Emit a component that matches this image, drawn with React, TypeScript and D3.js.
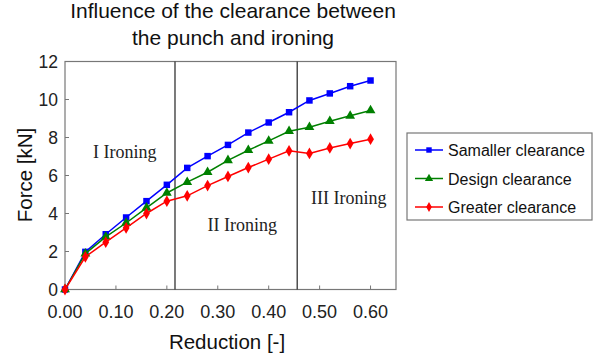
import React, { useEffect, useRef } from "react";
import * as d3 from "d3";

// reduction values (x) shared by all three series
const reduction = [0, 0.04, 0.08, 0.12, 0.16, 0.2, 0.24, 0.28, 0.32, 0.36, 0.4, 0.44, 0.48, 0.52, 0.56, 0.6];
const smallerForce = [0, 1.98, 2.91, 3.79, 4.65, 5.51, 6.4, 7.02, 7.61, 8.26, 8.79, 9.33, 9.95, 10.32, 10.7, 11.0];
const designForce = [0, 1.89, 2.77, 3.5, 4.3, 5.08, 5.65, 6.17, 6.8, 7.33, 7.82, 8.33, 8.54, 8.86, 9.14, 9.42];
const greaterForce = [0, 1.72, 2.49, 3.24, 4.0, 4.65, 4.93, 5.47, 5.95, 6.42, 6.86, 7.3, 7.16, 7.45, 7.68, 7.91];
const seriesNames = ["Samaller clearance", "Design clearance", "Greater clearance"];
const xTicks = [0, 0.1, 0.2, 0.3, 0.4, 0.5, 0.6];
const yTicks = [0, 2, 4, 6, 8, 10, 12];
// boundaries between the ironing stages
const stageBounds = [0.216, 0.456];
const stageLabels = [
  { text: "I Ironing", x: 0.055, y: 6.9 },
  { text: "II Ironing", x: 0.28, y: 3.1 },
  { text: "III Ironing", x: 0.483, y: 4.5 },
];

const App = () => {
  const ref = useRef<SVGSVGElement>(null);

  useEffect(() => {
    const svg = d3.select(ref.current);
    svg.selectAll("*").remove();

    const x = d3.scaleLinear().domain([0, 0.65]).range([65, 396]);
    const y = d3.scaleLinear().domain([0, 12]).range([289.5, 61.5]);
    const font = "Liberation Sans, Arial, sans-serif";

    // titulo
    svg
      .append("text")
      .attr("x", 233)
      .attr("text-anchor", "middle")
      .attr("font-family", font)
      .attr("font-size", 21)
      .attr("fill", "#111")
      .selectAll("tspan")
      .data(["Influence of the clearance between", "the punch and ironing"])
      .enter()
      .append("tspan")
      .attr("x", 233)
      .attr("y", (d, i) => 18 + i * 27)
      .text((d) => d);

    // marco del grafico
    svg
      .append("rect")
      .attr("x", x(0))
      .attr("y", y(12))
      .attr("width", x(0.65) - x(0))
      .attr("height", y(0) - y(12))
      .attr("fill", "none")
      .attr("stroke", "#777")
      .attr("stroke-width", 1.2);

    // ticks hacia adentro
    svg
      .selectAll(".ytick")
      .data(yTicks)
      .enter()
      .append("line")
      .attr("x1", x(0))
      .attr("x2", x(0) + 4)
      .attr("y1", (d) => y(d))
      .attr("y2", (d) => y(d))
      .attr("stroke", "#777");

    svg
      .selectAll(".xtick")
      .data(xTicks)
      .enter()
      .append("line")
      .attr("x1", (d) => x(d))
      .attr("x2", (d) => x(d))
      .attr("y1", y(0))
      .attr("y2", y(0) - 4)
      .attr("stroke", "#777");

    svg
      .selectAll(".ylab")
      .data(yTicks)
      .enter()
      .append("text")
      .attr("x", 58)
      .attr("y", (d) => y(d) + 6)
      .attr("text-anchor", "end")
      .attr("font-family", font)
      .attr("font-size", 17.5)
      .attr("fill", "#222")
      .text((d) => d);

    svg
      .selectAll(".xlab")
      .data(xTicks)
      .enter()
      .append("text")
      .attr("x", (d) => x(d))
      .attr("y", 318)
      .attr("text-anchor", "middle")
      .attr("font-family", font)
      .attr("font-size", 18)
      .attr("fill", "#222")
      .text((d) => d3.format(".2f")(d));

    svg
      .append("text")
      .attr("x", 227)
      .attr("y", 349)
      .attr("text-anchor", "middle")
      .attr("font-family", font)
      .attr("font-size", 20.5)
      .attr("fill", "#111")
      .text("Reduction [-]");

    svg
      .append("text")
      .attr("transform", "translate(32, 175) rotate(-90)")
      .attr("text-anchor", "middle")
      .attr("font-family", font)
      .attr("font-size", 20.5)
      .attr("fill", "#111")
      .text("Force [kN]");

    // lineas de las etapas
    svg
      .selectAll(".stage")
      .data(stageBounds)
      .enter()
      .append("line")
      .attr("x1", (d) => x(d))
      .attr("x2", (d) => x(d))
      .attr("y1", y(12))
      .attr("y2", y(0))
      .attr("stroke", "#333")
      .attr("stroke-width", 1.3);

    svg
      .selectAll(".stageLabel")
      .data(stageLabels)
      .enter()
      .append("text")
      .attr("x", (d) => x(d.x))
      .attr("y", (d) => y(d.y))
      .attr("font-family", "Liberation Serif, Times New Roman, serif")
      .attr("font-size", 18)
      .attr("fill", "#222")
      .text((d) => d.text);

    // series
    const series = [
      { name: seriesNames[0], values: smallerForce, color: "#0000ff", symbol: d3.symbolSquare, size: 42 },
      { name: seriesNames[1], values: designForce, color: "#008000", symbol: d3.symbolTriangle, size: 42 },
      { name: seriesNames[2], values: greaterForce, color: "#ff0000", symbol: d3.symbolDiamond, size: 40 },
    ];

    const line = d3
      .line<number>()
      .x((d, i) => x(reduction[i]))
      .y((d) => y(d));

    series.forEach((s) => {
      svg
        .append("path")
        .attr("d", line(s.values))
        .attr("fill", "none")
        .attr("stroke", s.color)
        .attr("stroke-width", 1.5);

      svg
        .selectAll(null)
        .data(s.values)
        .enter()
        .append("path")
        .attr("d", d3.symbol().type(s.symbol).size(s.size)())
        .attr("transform", (d, i) => `translate(${x(reduction[i])}, ${y(d)})`)
        .attr("fill", s.color);
    });

    // leyenda
    svg
      .append("rect")
      .attr("x", 407)
      .attr("y", 133)
      .attr("width", 185)
      .attr("height", 87)
      .attr("fill", "none")
      .attr("stroke", "#777")
      .attr("stroke-width", 1.2);

    series.forEach((s, i) => {
      const ly = 150 + i * 28.5;
      svg
        .append("line")
        .attr("x1", 415)
        .attr("x2", 443)
        .attr("y1", ly)
        .attr("y2", ly)
        .attr("stroke", s.color)
        .attr("stroke-width", 1.5);
      svg
        .append("path")
        .attr("d", d3.symbol().type(s.symbol).size(s.size * 0.7)())
        .attr("transform", `translate(429, ${ly})`)
        .attr("fill", s.color);
      svg
        .append("text")
        .attr("x", 448)
        .attr("y", ly + 6)
        .attr("font-family", font)
        .attr("font-size", 16)
        .attr("fill", "#111")
        .text(s.name);
    });
  }, []);

  return (
    <svg
      ref={ref}
      width={594}
      height={358}
      style={{ position: "absolute", left: 0, top: 0, background: "#fff" }}
    />
  );
};

export default App;
